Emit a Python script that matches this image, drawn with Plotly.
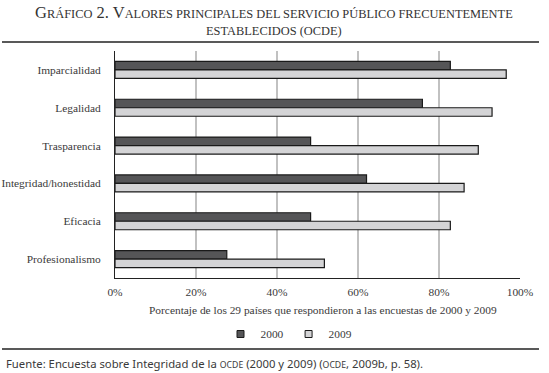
import plotly.graph_objects as go

W, H = 549, 373

categories = ["Imparcialidad", "Legalidad", "Trasparencia", "Integridad/honestidad", "Eficacia", "Profesionalismo"]
values_2000 = [82.8, 75.9, 48.3, 62.1, 48.3, 27.6]
values_2009 = [96.6, 93.1, 89.7, 86.2, 82.8, 51.7]
tick_vals = [0, 20, 40, 60, 80, 100]
tick_text = ["0%", "20%", "40%", "60%", "80%", "100%"]
grid_vals = [20, 40, 60, 80]

SERIF = "Liberation Serif"
SANS = "Noto Sans"
TXT = "#3a3a3a"
C2000 = "#555557"
C2009 = "#d4d4d6"
EDGE = "#1a1a1a"

def px(x):
    return x / W

def py(y):
    return 1 - y / H

fig = go.Figure()
fig.add_trace(go.Bar(
    y=categories, x=values_2000, orientation="h", name="2000", showlegend=False,
    marker=dict(color=C2000, line=dict(color=EDGE, width=1.2)),
))
fig.add_trace(go.Bar(
    y=categories, x=values_2009, orientation="h", name="2009", showlegend=False,
    marker=dict(color=C2009, line=dict(color=EDGE, width=1.2)),
))
# legend keys (small squares as in the reference)
for name, col in [("2000", C2000), ("2009", C2009)]:
    fig.add_trace(go.Scatter(
        x=[None], y=[None], mode="markers", name=name, showlegend=True,
        marker=dict(symbol="square", size=7, color=col, line=dict(color=EDGE, width=1)),
    ))

shapes = []
for g in grid_vals:
    shapes.append(dict(type="line", xref="x", yref="paper", x0=g, x1=g,
                       y0=py(278), y1=py(51), line=dict(color="#838383", width=1), layer="below"))
# horizontal rules
shapes.append(dict(type="line", xref="paper", yref="paper", x0=px(2), x1=px(539),
                   y0=py(42), y1=py(42), line=dict(color="#222", width=1.3)))
shapes.append(dict(type="line", xref="paper", yref="paper", x0=px(2), x1=px(539),
                   y0=py(349), y1=py(349), line=dict(color="#222", width=1.3)))

sc = "font-size:12.4px"
title1 = ("G<span style='%s'>RÁFICO</span> 2. V<span style='%s'>ALORES PRINCIPALES DEL SERVICIO "
          "PÚBLICO FRECUENTEMENTE</span>") % (sc, sc)
title2 = "<span style='%s'>ESTABLECIDOS (OCDE)</span>" % sc

annotations = [
    dict(text=title1, x=px(274), y=py(12), xref="paper", yref="paper", showarrow=False,
         font=dict(family=SERIF, size=16.5, color="#333"), xanchor="center", yanchor="middle"),
    dict(text=title2, x=px(274), y=py(31), xref="paper", yref="paper", showarrow=False,
         font=dict(family=SERIF, size=16.5, color="#333"), xanchor="center", yanchor="middle"),
    dict(text="Porcentaje de los 29 países que respondieron a las encuestas de 2000 y 2009",
         x=px(323), y=py(310), xref="paper", yref="paper", showarrow=False,
         font=dict(family=SERIF, size=11.4, color=TXT), xanchor="center", yanchor="middle"),
    dict(text="Fuente: Encuesta sobre Integridad de la <span style='font-size:8.7px'>OCDE</span> (2000 y 2009) "
              "(<span style='font-size:8.7px'>OCDE</span>, 2009b, p. 58).",
         x=px(4), y=py(363), xref="paper", yref="paper", showarrow=False,
         font=dict(family=SANS, size=11.3, color=TXT), xanchor="left", yanchor="middle"),
]

fig.update_layout(
    width=W, height=H,
    margin=dict(l=0, r=0, t=0, b=0, pad=0, autoexpand=False),
    paper_bgcolor="white", plot_bgcolor="white",
    barmode="group", bargap=0.55, bargroupgap=0,
    showlegend=True,
    legend=dict(orientation="h", x=px(289), y=py(334), xanchor="center", yanchor="middle",
                font=dict(family=SERIF, size=11.4, color=TXT), itemwidth=30,
                traceorder="normal", bgcolor="rgba(0,0,0,0)"),
    xaxis=dict(domain=[px(115), px(520)], range=[0, 100], tickvals=tick_vals, ticktext=tick_text,
               showgrid=False, zeroline=False, showline=True, linecolor="#222", linewidth=1,
               ticks="", tickfont=dict(family=SERIF, size=11.4, color=TXT), ticklabelstandoff=3,
               automargin=False),
    yaxis=dict(domain=[py(278), py(51)], categoryorder="array", categoryarray=categories,
               autorange="reversed", showgrid=False, zeroline=False, showline=True,
               linecolor="#222", linewidth=1, ticks="",
               tickfont=dict(family=SERIF, size=11.4, color=TXT), ticklabelstandoff=11,
               automargin=False),
    shapes=shapes, annotations=annotations,
)

fig.write_html("out.html", config={"displayModeBar": False},
               post_script="document.body.style.margin='0';document.body.style.padding='0';")
